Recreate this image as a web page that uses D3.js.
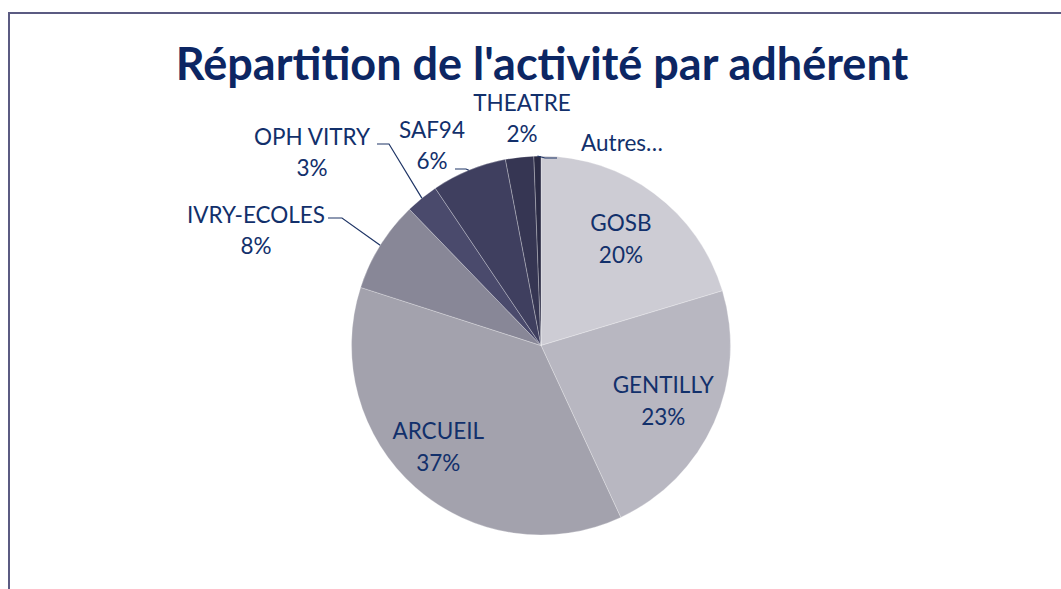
<!DOCTYPE html>
<html><head><meta charset="utf-8">
<script src="https://cdn.jsdelivr.net/npm/d3@7"></script>
<style>html,body{margin:0;padding:0;background:#fff;}svg{display:block;}</style>
</head><body>
<svg id="chart" width="1061" height="589"></svg>
<script>
const categories = ["GOSB","GENTILLY","ARCUEIL","IVRY-ECOLES","OPH VITRY","SAF94","THEATRE","Autres…"];
const values = [20.3, 22.7, 36.8, 7.8, 2.8, 6.4, 2.4, 0.6];
const colors = ["#cdccd4","#b8b7c1","#a3a2ad","#888797","#4a4a6c","#3f3f5f","#363653","#2b2b45"];
const title = "Répartition de l'activité par adhérent";

const W = 1061, H = 589;
const cx = 541, cy = 345.5, R = 189.5;
const textColor = "#12306b";
const svg = d3.select("#chart");

// frame
svg.append("path")
  .attr("d", `M9,${H} L9,13 L${W},13`)
  .attr("fill","none").attr("stroke","#5b5b82").attr("stroke-width",2);

svg.append("text").attr("x", 542).attr("y", 80)
  .attr("text-anchor","middle")
  .attr("font-family","Lato, 'Open Sans', sans-serif")
  .attr("font-weight","bold").attr("font-size", 45)
  .attr("fill","#0c2663").text(title);

const data = categories.map((c,i)=>({name:c, value:values[i], color:colors[i]}));
const total = d3.sum(values);
const pie = d3.pie().value(d=>d.value).sort(null);
const arcs = pie(data);
const arc = d3.arc().innerRadius(0).outerRadius(R);
const g = svg.append("g").attr("transform",`translate(${cx},${cy})`);

g.selectAll("path.slice").data(arcs).enter().append("path")
  .attr("class","slice").attr("d",arc)
  .attr("fill",d=>d.data.color)
  .attr("stroke","#ffffff").attr("stroke-opacity",0.35).attr("stroke-width",0.8);

const fontFam = "Lato, 'Open Sans', sans-serif";
const fs = 22.5;
const pct = d => Math.round(d.value/total*100) + "%";

// inside labels
const insideArc = d3.arc().innerRadius(134).outerRadius(134);
const inside = ["GOSB","GENTILLY","ARCUEIL"];
arcs.filter(a=>inside.includes(a.data.name)).forEach(a=>{
  let [x,y] = insideArc.centroid(a);
  if (a.data.name==="ARCUEIL") { x -= 14; }
  const t = g.append("text").attr("text-anchor","middle")
    .attr("font-family",fontFam).attr("font-size",fs).attr("fill",textColor);
  t.append("tspan").attr("x",x).attr("y",y-7).text(a.data.name);
  t.append("tspan").attr("x",x).attr("y",y+25).text(pct(a.data));
});

// outside labels: label block centre (absolute), leader elbow start/end
const outsideLayout = {
  "IVRY-ECOLES": {lx:256, ly:223, elbow:[[328,218],[342,218]]},
  "OPH VITRY":   {lx:312, ly:145, elbow:[[377,144],[389,144]]},
  "SAF94":       {lx:432, ly:138, elbow:[[455,169],[466,169]]},
  "THEATRE":     {lx:522, ly:111, elbow:null},
  "Autres…":     {lx:622, ly:151, elbow:[[557,158],[545,158]], single:true}
};
const edgeArc = d3.arc().innerRadius(R).outerRadius(R);
arcs.filter(a=>outsideLayout[a.data.name]).forEach(a=>{
  const L = outsideLayout[a.data.name];
  const t = svg.append("text").attr("text-anchor","middle")
    .attr("font-family",fontFam).attr("font-size",fs).attr("fill",textColor);
  t.append("tspan").attr("x",L.lx).attr("y",L.ly).text(a.data.name);
  if (!L.single) {
    t.append("tspan").attr("x",L.lx).attr("y",L.ly+31).text(pct(a.data));
  }
  if (L.elbow) {
    const [ex,ey] = edgeArc.centroid(a);
    const pts = [L.elbow[0], L.elbow[1], [cx+ex, cy+ey]];
    svg.append("path").attr("d", d3.line()(pts))
      .attr("fill","none").attr("stroke","#1f3566").attr("stroke-width",1.2);
  }
});
</script>
</body></html>
